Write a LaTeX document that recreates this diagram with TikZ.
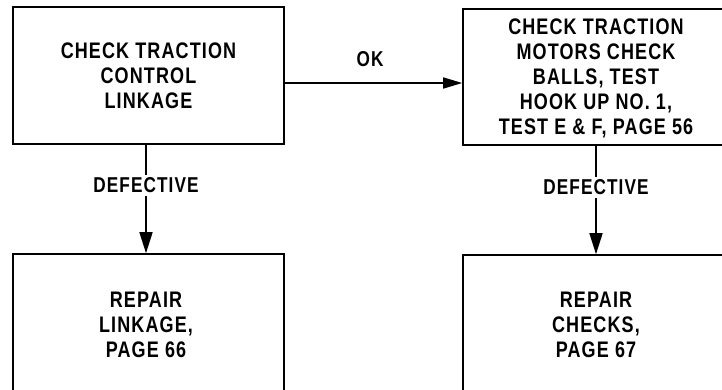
\documentclass[tikz,border=0pt]{standalone}
\usepackage{fontspec}
\newfontfamily\fcfont[FakeStretch=0.8,LetterSpace=5]{Liberation Sans}
\usetikzlibrary{arrows.meta}
\tikzset{
  txt/.style={align=center, inner sep=0pt,
    font=\fcfont\bfseries\fontsize{22.5}{25}\selectfont},
  box/.style={draw, line width=1.6pt, inner sep=0pt, txt},
  lbl/.style={fill=white, inner sep=3pt, font=\fcfont\bfseries\fontsize{21.5}{24}\selectfont},
  conn/.style={line width=1.6pt, -{Triangle[length=21pt,width=13pt]}},
  okconn/.style={line width=1.6pt, -{Triangle[length=19pt,width=11pt]}}
}
\begin{document}
\begin{tikzpicture}[x=1pt,y=-1pt]
\useasboundingbox (0,0) rectangle (722,389);
\node[box, minimum width=271pt, minimum height=137pt] (a) at (148.5,75.5)
  {CHECK TRACTION\\CONTROL\\LINKAGE};
\node[box, minimum width=290pt, minimum height=136pt] (b) at (608,77) {};
\node[txt] (bt) at (596,78)
  {CHECK TRACTION\\MOTORS CHECK\\BALLS, TEST\\HOOK UP NO. 1,\\TEST E \& F, PAGE 56};
\node[box, minimum width=271pt, minimum height=145pt] (c) at (148.5,326.5) {};
\node[txt] (ct) at (146,325) {REPAIR\\LINKAGE,\\PAGE 66};
\node[box, minimum width=290pt, minimum height=145pt] (d) at (608,327.5) {};
\node[txt] (dt) at (596,325) {REPAIR\\CHECKS,\\PAGE 67};
\coordinate (as) at (146,144);
\coordinate (bs) at (596,145);
\draw[conn] (as) -- node[lbl, pos=0.38] {DEFECTIVE} (as |- c.north);
\draw[conn] (bs) -- node[lbl, pos=0.39] {DEFECTIVE} (bs |- d.north);
\draw[okconn] (a.east |- 0,83) coordinate (s) -- (s -| b.west);
\node[lbl, fill=none] (ok) at (370,59) {OK};
\end{tikzpicture}
\end{document}
